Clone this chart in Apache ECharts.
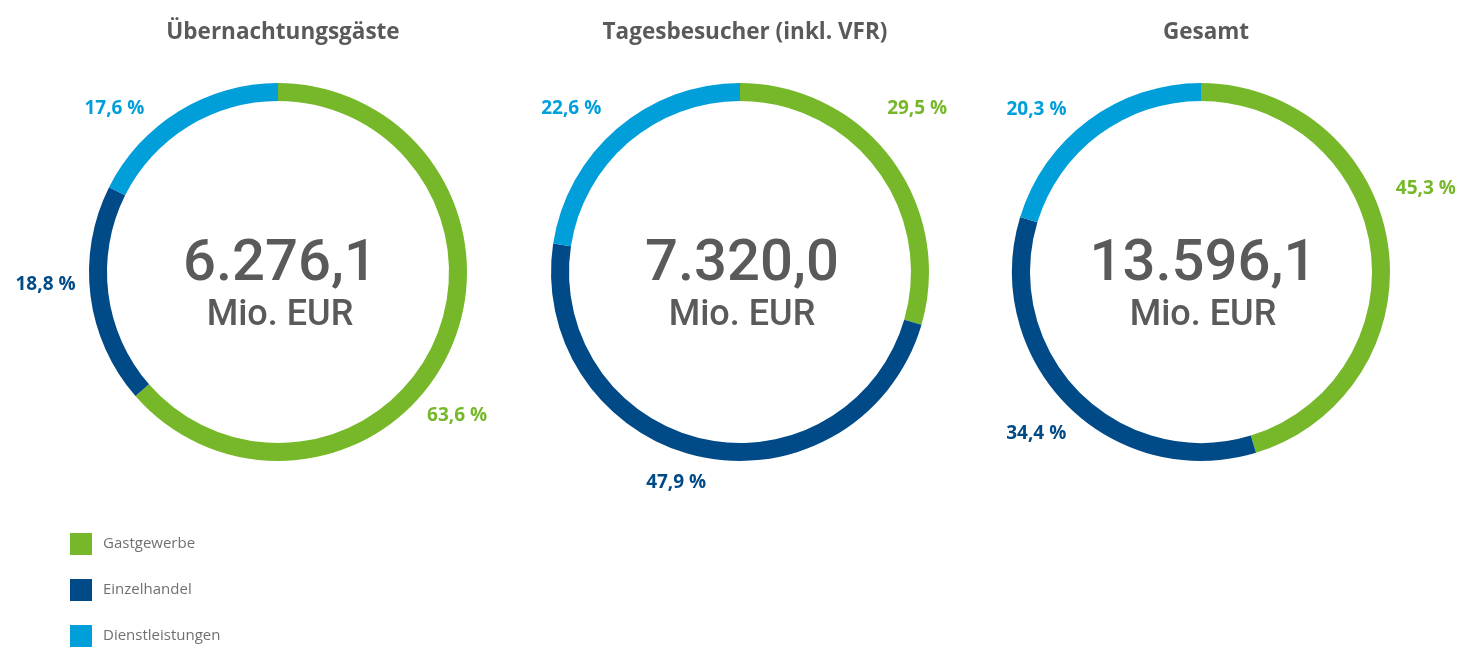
<!DOCTYPE html>
<html>
<head>
<meta charset="utf-8">
<script src="https://cdn.jsdelivr.net/npm/echarts@6/dist/echarts.min.js"></script>
<style>
  html, body { margin: 0; padding: 0; background: #fff; }
  #main { width: 1459px; height: 650px; }
</style>
</head>
<body>
<div id="main"></div>
<script>
var categories = ['Gastgewerbe', 'Einzelhandel', 'Dienstleistungen'];
var chartTitles = ['Übernachtungsgäste', 'Tagesbesucher (inkl. VFR)', 'Gesamt'];
var totals = [6276.1, 7320.0, 13596.1];
var shares1 = [63.6, 18.8, 17.6];
var shares2 = [29.5, 47.9, 22.6];
var shares3 = [45.3, 34.4, 20.3];

var colors = ['#76b82a', '#004a87', '#009fda'];
var centersX = [278, 740, 1201];
var centerY = 272;
// small nudges so the percent labels sit where they do in the original
var labelNudge = [
  [[-47, 61], [10, -12], [-14, 6]],
  [[-27, -44], [24, 16], [6, -12]],
  [[-17, -54], [21, 21], [-1, -3]]
];

function deNumber(v) {
  var parts = v.toFixed(1).split('.');
  var int = parts[0].replace(/\B(?=(\d{3})+(?!\d))/g, '.');
  return int + ',' + parts[1];
}

var chart = echarts.init(document.getElementById('main'));

var titles = [];
var series = [];
[shares1, shares2, shares3].forEach(function (shares, i) {
  titles.push({
    text: chartTitles[i],
    left: centersX[i],
    top: 16,
    textAlign: 'center',
    textStyle: { fontFamily: 'Open Sans', fontSize: 22.5, fontWeight: 'bold', color: '#5a5a5a' }
  });
  titles.push({
    text: deNumber(totals[i]),
    subtext: 'Mio. EUR',
    left: centersX[i] - 3,
    top: 229,
    textAlign: 'center',
    itemGap: 0,
    textStyle: { fontFamily: 'Roboto', fontSize: 58, fontWeight: 500, color: '#5a5a5a', lineHeight: 62 },
    subtextStyle: { fontFamily: 'Roboto', fontSize: 36, fontWeight: 500, color: '#5a5a5a', lineHeight: 40 }
  });
  series.push({
    type: 'pie',
    center: [centersX[i], centerY],
    radius: [171, 189],
    startAngle: 90,
    clockwise: true,
    silent: true,
    animation: false,
    label: {
      show: true,
      position: 'outside',
      overflow: 'none',
      formatter: function (p) { return String(p.value).replace('.', ',') + ' %'; },
      fontFamily: 'Open Sans',
      fontSize: 19,
      fontWeight: 'bold'
    },
    labelLine: { show: false, length: 10, length2: 10 },
    labelLayout: function (p) {
      var n = labelNudge[i][p.dataIndex];
      return { dx: n[0], dy: n[1] };
    },
    data: categories.map(function (c, j) {
      return { name: c, value: shares[j], itemStyle: { color: colors[j] }, label: { color: colors[j] } };
    })
  });
});

chart.setOption({
  color: colors,
  title: titles,
  legend: {
    orient: 'vertical',
    left: 70,
    top: 533,
    padding: 0,
    icon: 'rect',
    itemWidth: 22,
    itemHeight: 22,
    itemGap: 24,
    textStyle: { fontFamily: 'Open Sans', fontSize: 15, fontWeight: 'normal', color: '#707070', padding: [0, 0, 0, 6] },
    data: categories,
    selectedMode: false
  },
  series: series
});
</script>
</body>
</html>
